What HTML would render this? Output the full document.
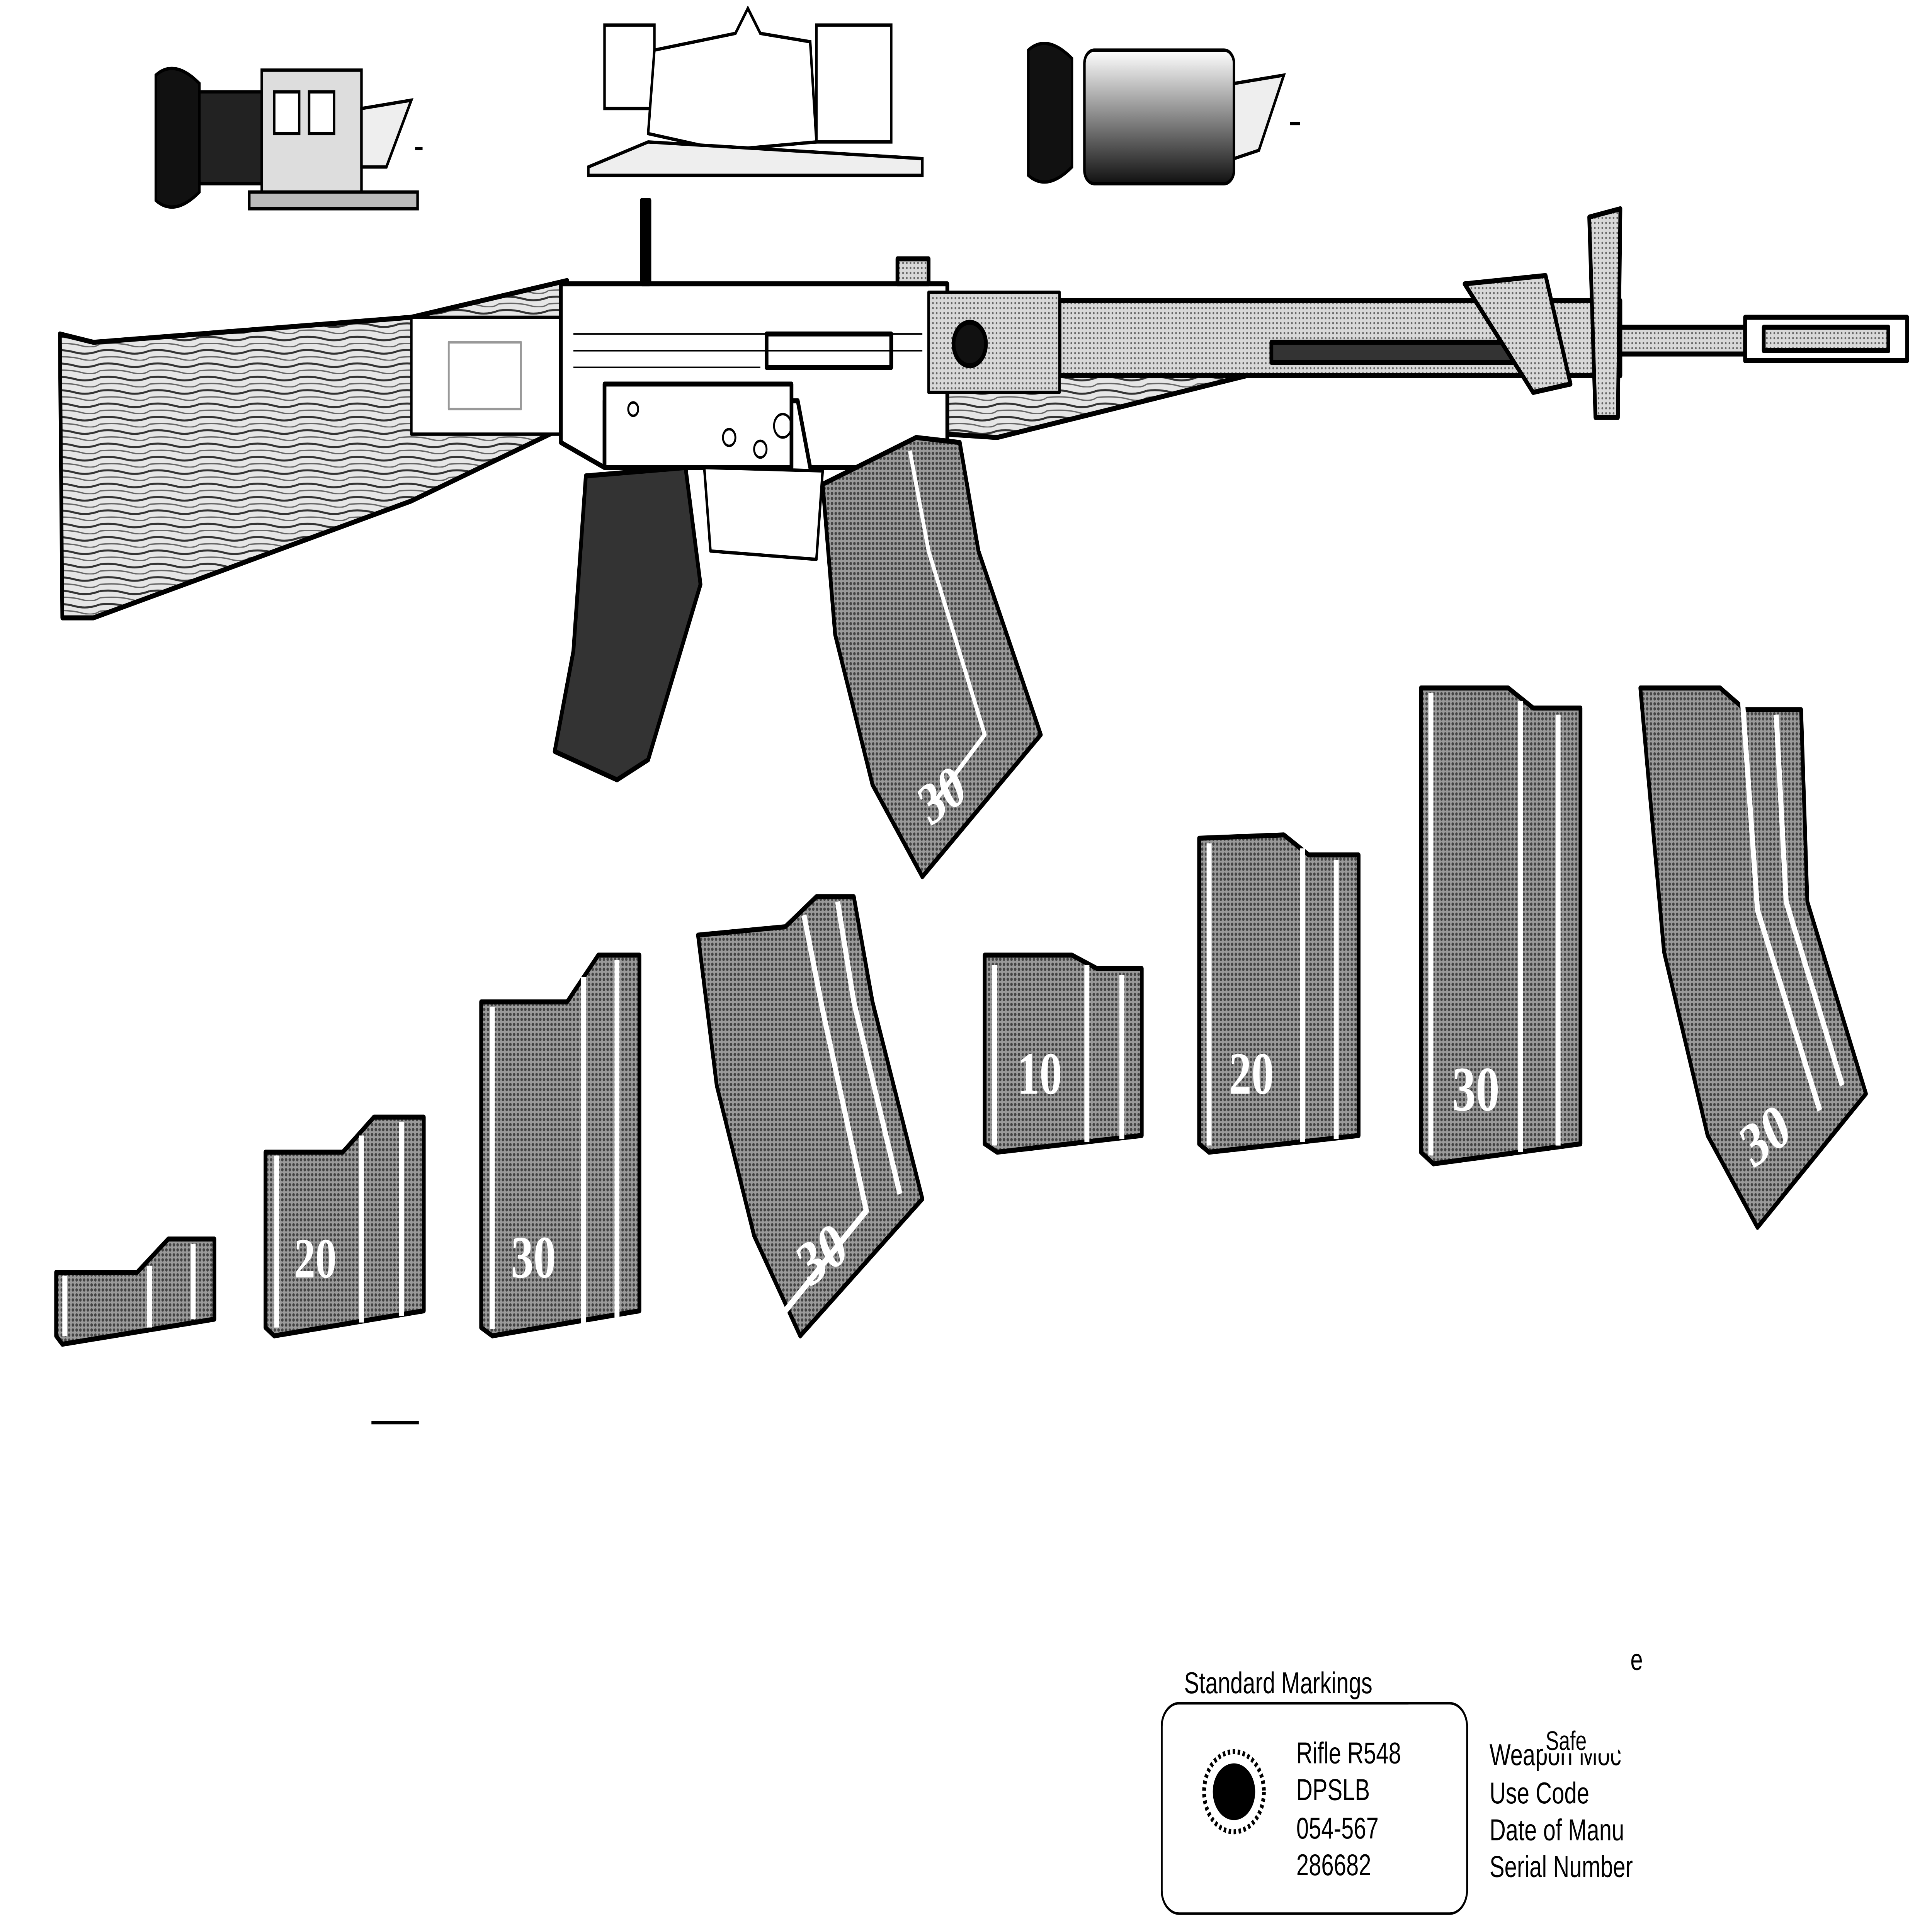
<!DOCTYPE html>
<html><head><meta charset="utf-8"><style>
html,body{margin:0;padding:0;background:#fff;width:100%;height:100%;overflow:hidden;}
svg{position:fixed;left:0;top:0;width:100vw;height:100vh;display:block;}
text{font-family:"Liberation Sans",sans-serif;}
.n{font-family:"Liberation Serif",serif;font-weight:bold;fill:#fff;}
</style></head><body>
<svg viewBox="0 0 1550 1157" preserveAspectRatio="none" xmlns="http://www.w3.org/2000/svg">
<defs>
<pattern id="dots" width="3" height="3" patternUnits="userSpaceOnUse">
<rect width="3" height="3" fill="#9a9a9a"/><circle cx="1.5" cy="1.5" r="1" fill="#444"/></pattern>
<pattern id="lt" width="3" height="3" patternUnits="userSpaceOnUse">
<rect width="3" height="3" fill="#d8d8d8"/><circle cx="1.5" cy="1.5" r=".7" fill="#666"/></pattern>
<pattern id="wood" width="40" height="8" patternUnits="userSpaceOnUse">
<rect width="40" height="8" fill="#e6e6e6"/><path d="M0 2 Q10 1 20 3 T40 2" stroke="#333" stroke-width="1.2" fill="none"/><path d="M0 6 Q15 5 25 7 T40 6" stroke="#666" stroke-width=".8" fill="none"/></pattern>
<linearGradient id="cyl" x1="0" y1="0" x2="0" y2="1"><stop offset="0" stop-color="#fff"/><stop offset="1" stop-color="#111"/></linearGradient>
</defs>
<rect width="1550" height="1157" fill="#fff"/>

<g stroke="#000" stroke-width="2">
<path d="M125 45 Q140 35 160 50 L160 115 Q140 130 125 120 Z" fill="#111"/>
<rect x="160" y="55" width="50" height="55" fill="#222"/>
<rect x="210" y="42" width="80" height="75" fill="#ddd"/>
<rect x="220" y="55" width="20" height="25" fill="#fff"/><rect x="248" y="55" width="20" height="25" fill="#fff"/>
<path d="M290 65 L330 60 L310 100 L290 100Z" fill="#eee"/>
<rect x="200" y="115" width="135" height="10" fill="#bbb"/>
<rect x="485" y="15" width="40" height="50" fill="#fff"/>
<path d="M525 30 L590 20 L600 5 L610 20 L650 25 L655 85 L580 90 L520 80 Z" fill="#fff"/>
<rect x="655" y="15" width="60" height="70" fill="#fff"/>
<path d="M472 100 L520 85 L740 95 L740 105 L472 105Z" fill="#eee"/>
<path d="M825 30 Q840 20 860 35 L860 100 Q840 115 825 105 Z" fill="#111"/>
<rect x="870" y="30" width="120" height="80" rx="8" fill="url(#cyl)"/>
<path d="M990 50 L1030 45 L1010 90 L990 95Z" fill="#eee"/>
</g>
<rect x="333" y="88" width="6" height="2" fill="#000"/><rect x="1035" y="73" width="8" height="2" fill="#000"/>

<g stroke="#000" stroke-width="3" stroke-linejoin="round">
<path d="M48 200 L75 205 L330 190 L455 168 L455 255 L330 300 L75 370 L50 370 Z" fill="url(#wood)"/>
<rect x="330" y="190" width="120" height="70" fill="#fff" stroke-width="2"/>
<rect x="360" y="205" width="58" height="40" fill="#fff" stroke="#999" stroke-width="1.5"/>
<path d="M760 205 L1020 205 L1000 225 L800 262 L760 260Z" fill="url(#wood)"/>
<rect x="850" y="180" width="450" height="45" fill="url(#lt)"/>
<rect x="1020" y="205" width="230" height="12" fill="#333"/>
<rect x="1300" y="196" width="100" height="16" fill="url(#lt)"/>
<rect x="1400" y="190" width="130" height="26" fill="#fff"/>
<rect x="1415" y="196" width="100" height="14" fill="url(#lt)"/>
<path d="M1275 130 L1300 125 L1298 250 L1280 250Z" fill="url(#lt)"/>
<path d="M1175 170 L1240 165 L1260 230 L1230 235Z" fill="url(#lt)"/>
<path d="M450 170 L760 170 L760 280 L650 280 L640 240 L485 240 L485 280 L450 265Z" fill="#fff"/>
<rect x="485" y="230" width="150" height="50" fill="#fff"/>
<rect x="615" y="200" width="100" height="20" fill="#fff"/>
<rect x="515" y="120" width="6" height="50" fill="#000"/>
<rect x="720" y="155" width="25" height="15" fill="url(#lt)"/>
<rect x="745" y="175" width="105" height="60" fill="url(#lt)" stroke-width="2"/>
<circle cx="778" cy="206" r="13" fill="#111"/>
<path d="M470 285 L550 280 L562 350 L520 455 L495 467 L445 450 L460 390Z" fill="#333"/>
<path d="M565 280 L660 282 L655 335 L570 330Z" fill="#fff" stroke-width="2"/>
<path d="M660 290 L735 262 L770 265 L785 330 L835 440 L740 525 L700 470 L670 380Z" fill="url(#dots)"/>
<path d="M730 270 L745 330 L790 440 L750 480" fill="none" stroke="#fff" stroke-width="3"/>
</g>
<g fill="none" stroke="#000" stroke-width="1.5">
<circle cx="508" cy="245" r="4"/><circle cx="585" cy="262" r="5"/><circle cx="610" cy="269" r="5"/><circle cx="628" cy="255" r="7"/>
</g>
<g stroke="#000" stroke-width="1"><line x1="460" y1="200" x2="740" y2="200"/><line x1="460" y1="210" x2="740" y2="210"/><line x1="460" y1="220" x2="610" y2="220"/></g>
<text class="n" x="735" y="485" font-size="36" transform="rotate(-30 760 470)">30</text>

<g stroke="#000" stroke-width="3" stroke-linejoin="round" fill="url(#dots)">
<path d="M45 762 L110 762 L135 742 L172 742 L172 790 L50 805 L45 800Z"/>
<path d="M213 690 L275 690 L300 669 L340 669 L340 785 L220 800 L213 795Z"/>
<path d="M386 600 L455 600 L480 572 L513 572 L513 785 L395 800 L386 795Z"/>
<path d="M560 560 L630 555 L655 537 L685 537 L700 600 L740 718 L642 800 L605 740 L575 650Z"/>
<path d="M790 572 L860 572 L880 580 L916 580 L916 680 L800 690 L790 685Z"/>
<path d="M962 502 L1030 500 L1050 512 L1090 512 L1090 680 L970 690 L962 685Z"/>
<path d="M1140 412 L1210 412 L1230 424 L1268 424 L1268 685 L1150 697 L1140 690Z"/>
<path d="M1316 412 L1380 412 L1400 425 L1445 425 L1450 540 L1497 655 L1410 735 L1370 680 L1335 570Z"/>
</g>
<g stroke="#fff" stroke-width="4" fill="none">
<line x1="52" y1="764" x2="52" y2="800"/><line x1="120" y1="758" x2="120" y2="795"/><line x1="155" y1="745" x2="155" y2="790"/>
<line x1="222" y1="692" x2="222" y2="795"/><line x1="290" y1="680" x2="290" y2="792"/><line x1="322" y1="672" x2="322" y2="788"/>
<line x1="395" y1="603" x2="395" y2="796"/><line x1="468" y1="585" x2="468" y2="795"/><line x1="495" y1="575" x2="495" y2="790"/>
<path d="M645 548 L660 605 L695 725 L630 785"/><path d="M672 540 L685 600 L722 715"/>
<line x1="798" y1="578" x2="798" y2="686"/><line x1="872" y1="578" x2="872" y2="684"/><line x1="900" y1="584" x2="900" y2="682"/>
<line x1="970" y1="505" x2="970" y2="686"/><line x1="1045" y1="508" x2="1045" y2="684"/><line x1="1072" y1="515" x2="1072" y2="682"/>
<line x1="1148" y1="415" x2="1148" y2="692"/><line x1="1220" y1="420" x2="1220" y2="690"/><line x1="1250" y1="428" x2="1250" y2="686"/>
<path d="M1398 420 L1410 545 L1460 665"/><path d="M1425 428 L1433 540 L1478 650"/>
</g>
<text class="n" x="236" y="765" font-size="34">20</text>
<text class="n" x="410" y="765" font-size="36">30</text>
<text class="n" x="638" y="760" font-size="38" transform="rotate(-30 665 745)">30</text>
<text class="n" x="816" y="655" font-size="36">10</text>
<text class="n" x="986" y="655" font-size="36">20</text>
<text class="n" x="1165" y="665" font-size="38">30</text>
<text class="n" x="1395" y="690" font-size="38" transform="rotate(-30 1420 675)">30</text>
<line x1="298" y1="852" x2="336" y2="852" stroke="#000" stroke-width="2"/>

<text x="950" y="1014" font-size="18">Standard Markings</text>
<line x1="945" y1="1020" x2="1130" y2="1020" stroke="#000" stroke-width="1.5"/>
<rect x="932" y="1020" width="245" height="126" rx="14" fill="none" stroke="#000" stroke-width="1.5"/>
<circle cx="990" cy="1073" r="24" fill="none" stroke="#000" stroke-width="3" stroke-dasharray="2 2"/>
<circle cx="990" cy="1073" r="17" fill="#000"/>
<g font-size="18">
<text x="1040" y="1056">Rifle R548</text>
<text x="1040" y="1078">DPSLB</text>
<text x="1040" y="1101">054-567</text>
<text x="1040" y="1123">286682</text>
<text x="1195" y="1057">Weapon Moc</text>
<text x="1195" y="1080">Use Code</text>
<text x="1195" y="1102">Date of Manu</text>
<text x="1195" y="1124">Serial Number</text>
<text x="1308" y="1000">e</text>
</g>
<rect x="1238" y="1036" width="60" height="14" fill="#fff"/>
<text x="1240" y="1048" font-size="16">Safe</text>
</svg>
</body></html>
